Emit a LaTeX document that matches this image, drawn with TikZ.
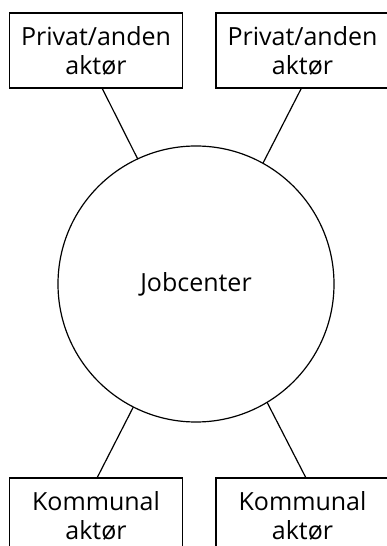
\documentclass[tikz,border=0pt]{standalone}
\usepackage{fontspec}
\setmainfont{Open Sans}

\tikzset{
  aktor/.style={draw,line width=1.2pt,minimum width=173pt,minimum height=75pt,
                inner sep=0pt,outer sep=0pt,align=center,font=\fontsize{25}{29}\selectfont},
  center/.style={draw,circle,line width=1.2pt,minimum size=276pt,inner sep=0pt,outer sep=0pt,
                 font=\fontsize{25}{29}\selectfont},
  link/.style={line width=1.2pt}
}

\begin{document}
\begin{tikzpicture}[x=1pt,y=1pt]
\useasboundingbox (0,0) rectangle (386,546);

% the jobcenter
\node[center] (job) at (196,262) {Jobcenter};

% the four actors
\foreach \n/\x/\y/\t in {tl/96/495.5/{Privat/anden\\aktør}, tr/302.5/495.5/{Privat/anden\\aktør},
                         bl/96/30.5/{Kommunal\\aktør}, br/302.5/30.5/{Kommunal\\aktør}}
  {
    \node[aktor] (\n) at (\x,\y) {\t};
  }

% connectors
\foreach \a/\s/\b in {tl.south/6/115, tr.south/-1/61, bl.north/1/243, br.north/3.5/301}
  \draw[link] ([xshift=\s pt]\a) -- (job.\b);
\end{tikzpicture}
\end{document}
